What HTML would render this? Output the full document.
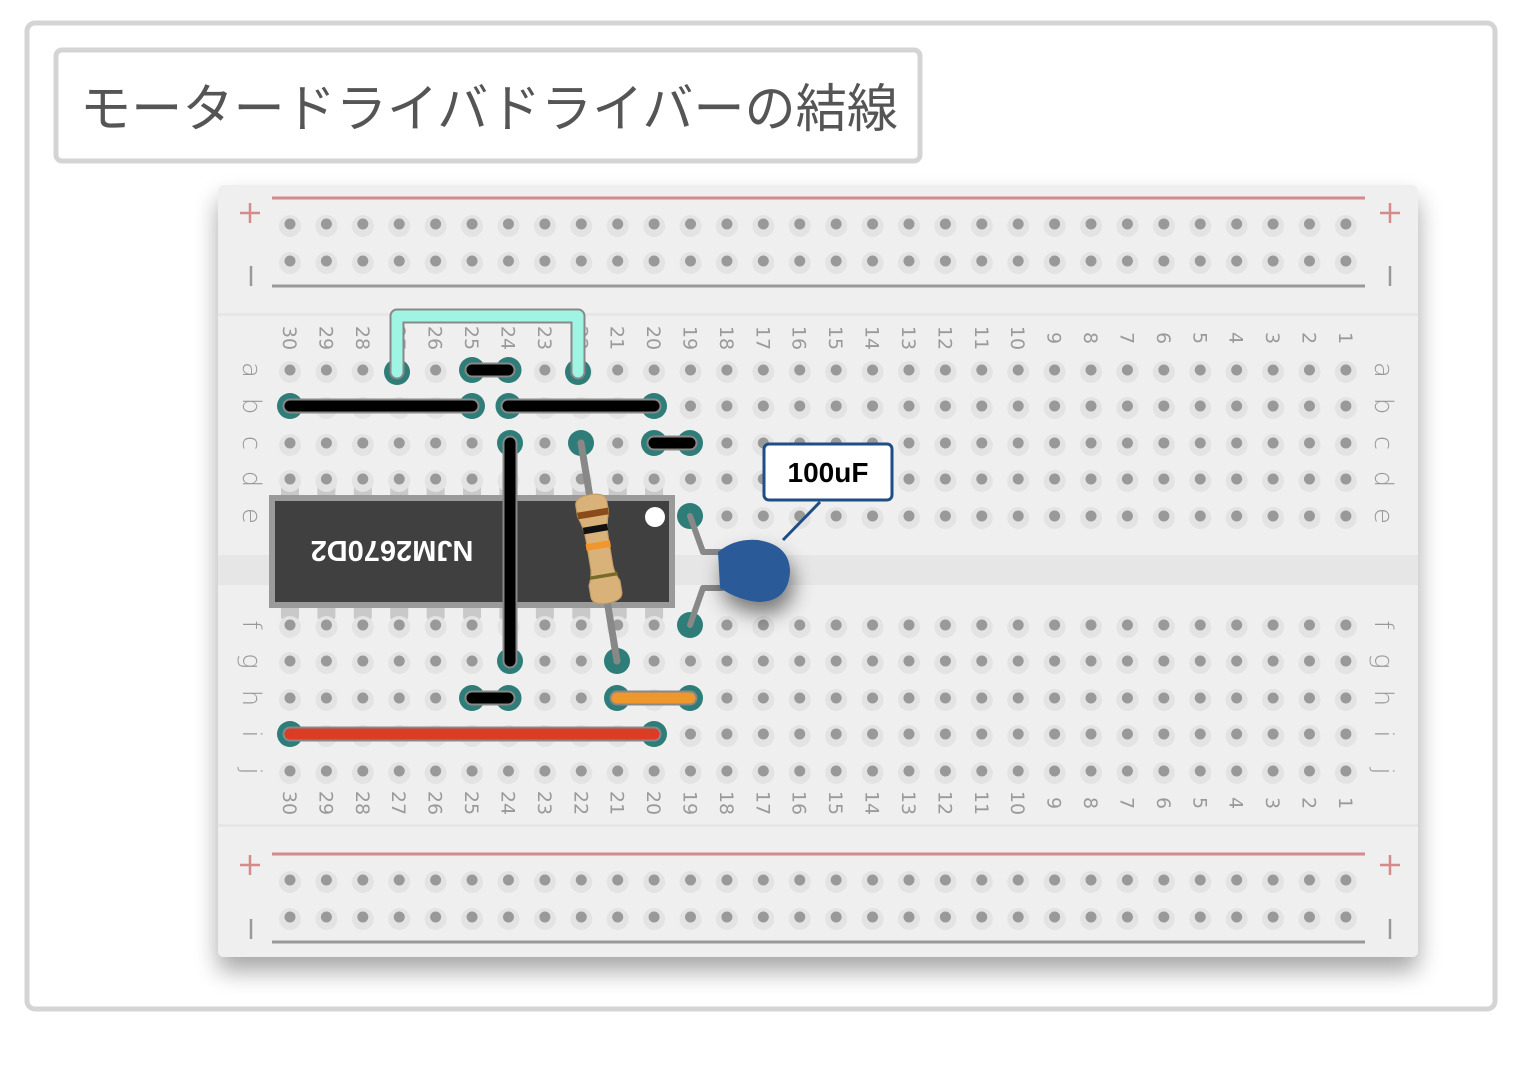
<!DOCTYPE html>
<html><head><meta charset="utf-8"><style>
html,body{margin:0;padding:0;background:#fff;width:1522px;height:1080px;overflow:hidden}
svg{display:block}
.n{font-family:"DejaVu Sans","Liberation Sans",sans-serif;font-size:19px;fill:#9a9a9a}
.l{font-family:"DejaVu Sans","Liberation Sans",sans-serif;font-size:26px;fill:#999;font-weight:200}
</style></head><body>
<svg id="s" width="1522" height="1080" viewBox="0 0 1522 1080" xmlns="http://www.w3.org/2000/svg">
<defs>
<filter id="sh" x="-10%" y="-10%" width="120%" height="130%"><feGaussianBlur in="SourceAlpha" stdDeviation="12"/><feOffset dy="14"/><feComponentTransfer><feFuncA type="linear" slope="0.35"/></feComponentTransfer><feMerge><feMergeNode/><feMergeNode in="SourceGraphic"/></feMerge></filter>
<filter id="cs" x="-100%" y="-100%" width="300%" height="300%"><feGaussianBlur in="SourceAlpha" stdDeviation="10"/><feOffset dx="4" dy="12"/><feComponentTransfer><feFuncA type="linear" slope="0.5"/></feComponentTransfer><feMerge><feMergeNode/><feMergeNode in="SourceGraphic"/></feMerge></filter>
</defs>
<rect x="27" y="23" width="1468" height="986" rx="8" fill="#fff" stroke="#d4d4d4" stroke-width="5"/>
<rect x="56" y="50" width="864" height="111" rx="6" fill="#fff" stroke="#d4d4d4" stroke-width="5"/>
<text x="80" y="127" textLength="818" lengthAdjust="spacingAndGlyphs" font-family="'Liberation Sans','Noto Sans CJK JP',sans-serif" font-size="52" fill="#555">モータードライバドライバーの結線</text>

<g filter="url(#sh)"><rect x="218" y="185" width="1200" height="772" rx="6" fill="#efefef"/></g>
<rect x="218" y="313" width="1200" height="3" fill="#e6e6e6"/>
<rect x="218" y="824" width="1200" height="3" fill="#e6e6e6"/>
<rect x="218" y="555" width="1200" height="30" fill="#e6e6e6"/>
<line x1="272" y1="198" x2="1365" y2="198" stroke="#d28a8a" stroke-width="3"/>
<line x1="272" y1="286" x2="1365" y2="286" stroke="#999" stroke-width="3"/>
<line x1="272" y1="854" x2="1365" y2="854" stroke="#d28a8a" stroke-width="3"/>
<line x1="272" y1="942" x2="1365" y2="942" stroke="#999" stroke-width="3"/>
<g stroke="#d28a8a" stroke-width="2.5"><path d="M240 213h20M250 203v20M1380 213h20M1390 203v20M240 865h20M250 855v20M1380 865h20M1390 855v20"/></g>
<g stroke="#999" stroke-width="2.5"><path d="M251 266v20M1390 266v20M251 919v20M1390 919v20"/></g>
<g id="pins" fill="#c9c9c9"></g>
<g id="dots"></g>

<g class="n" text-anchor="middle">
<text transform="translate(290,338) rotate(90)" dy="7">30</text><text transform="translate(326.4,338) rotate(90)" dy="7">29</text><text transform="translate(362.8,338) rotate(90)" dy="7">28</text><text transform="translate(399.2,338) rotate(90)" dy="7">27</text><text transform="translate(435.6,338) rotate(90)" dy="7">26</text><text transform="translate(472,338) rotate(90)" dy="7">25</text><text transform="translate(508.5,338) rotate(90)" dy="7">24</text><text transform="translate(544.9,338) rotate(90)" dy="7">23</text><text transform="translate(581.3,338) rotate(90)" dy="7">22</text><text transform="translate(617.7,338) rotate(90)" dy="7">21</text><text transform="translate(654.1,338) rotate(90)" dy="7">20</text><text transform="translate(690.5,338) rotate(90)" dy="7">19</text><text transform="translate(726.9,338) rotate(90)" dy="7">18</text><text transform="translate(763.3,338) rotate(90)" dy="7">17</text><text transform="translate(799.7,338) rotate(90)" dy="7">16</text><text transform="translate(836.2,338) rotate(90)" dy="7">15</text><text transform="translate(872.6,338) rotate(90)" dy="7">14</text><text transform="translate(909,338) rotate(90)" dy="7">13</text><text transform="translate(945.4,338) rotate(90)" dy="7">12</text><text transform="translate(981.8,338) rotate(90)" dy="7">11</text><text transform="translate(1018.2,338) rotate(90)" dy="7">10</text><text transform="translate(1054.6,338) rotate(90)" dy="7">9</text><text transform="translate(1091,338) rotate(90)" dy="7">8</text><text transform="translate(1127.4,338) rotate(90)" dy="7">7</text><text transform="translate(1163.9,338) rotate(90)" dy="7">6</text><text transform="translate(1200.3,338) rotate(90)" dy="7">5</text><text transform="translate(1236.7,338) rotate(90)" dy="7">4</text><text transform="translate(1273.1,338) rotate(90)" dy="7">3</text><text transform="translate(1309.5,338) rotate(90)" dy="7">2</text><text transform="translate(1345.9,338) rotate(90)" dy="7">1</text>
<text transform="translate(290,803) rotate(90)" dy="7">30</text><text transform="translate(326.4,803) rotate(90)" dy="7">29</text><text transform="translate(362.8,803) rotate(90)" dy="7">28</text><text transform="translate(399.2,803) rotate(90)" dy="7">27</text><text transform="translate(435.6,803) rotate(90)" dy="7">26</text><text transform="translate(472,803) rotate(90)" dy="7">25</text><text transform="translate(508.5,803) rotate(90)" dy="7">24</text><text transform="translate(544.9,803) rotate(90)" dy="7">23</text><text transform="translate(581.3,803) rotate(90)" dy="7">22</text><text transform="translate(617.7,803) rotate(90)" dy="7">21</text><text transform="translate(654.1,803) rotate(90)" dy="7">20</text><text transform="translate(690.5,803) rotate(90)" dy="7">19</text><text transform="translate(726.9,803) rotate(90)" dy="7">18</text><text transform="translate(763.3,803) rotate(90)" dy="7">17</text><text transform="translate(799.7,803) rotate(90)" dy="7">16</text><text transform="translate(836.2,803) rotate(90)" dy="7">15</text><text transform="translate(872.6,803) rotate(90)" dy="7">14</text><text transform="translate(909,803) rotate(90)" dy="7">13</text><text transform="translate(945.4,803) rotate(90)" dy="7">12</text><text transform="translate(981.8,803) rotate(90)" dy="7">11</text><text transform="translate(1018.2,803) rotate(90)" dy="7">10</text><text transform="translate(1054.6,803) rotate(90)" dy="7">9</text><text transform="translate(1091,803) rotate(90)" dy="7">8</text><text transform="translate(1127.4,803) rotate(90)" dy="7">7</text><text transform="translate(1163.9,803) rotate(90)" dy="7">6</text><text transform="translate(1200.3,803) rotate(90)" dy="7">5</text><text transform="translate(1236.7,803) rotate(90)" dy="7">4</text><text transform="translate(1273.1,803) rotate(90)" dy="7">3</text><text transform="translate(1309.5,803) rotate(90)" dy="7">2</text><text transform="translate(1345.9,803) rotate(90)" dy="7">1</text>
</g>
<g class="l" text-anchor="middle">
<text transform="translate(252,370) rotate(90)" dy="9">a</text><text transform="translate(252,406) rotate(90)" dy="9">b</text><text transform="translate(252,443) rotate(90)" dy="9">c</text><text transform="translate(252,479) rotate(90)" dy="9">d</text><text transform="translate(252,516) rotate(90)" dy="9">e</text><text transform="translate(252,625) rotate(90)" dy="9">f</text><text transform="translate(252,661) rotate(90)" dy="9">g</text><text transform="translate(252,698) rotate(90)" dy="9">h</text><text transform="translate(252,734) rotate(90)" dy="9">i</text><text transform="translate(252,771) rotate(90)" dy="9">j</text>
<text transform="translate(1384,370) rotate(90)" dy="9">a</text><text transform="translate(1384,406) rotate(90)" dy="9">b</text><text transform="translate(1384,443) rotate(90)" dy="9">c</text><text transform="translate(1384,479) rotate(90)" dy="9">d</text><text transform="translate(1384,516) rotate(90)" dy="9">e</text><text transform="translate(1384,625) rotate(90)" dy="9">f</text><text transform="translate(1384,661) rotate(90)" dy="9">g</text><text transform="translate(1384,698) rotate(90)" dy="9">h</text><text transform="translate(1384,734) rotate(90)" dy="9">i</text><text transform="translate(1384,771) rotate(90)" dy="9">j</text>
</g>

<rect x="272" y="498" width="400" height="107" fill="#404040" stroke="#9a9a9a" stroke-width="6"/>
<text transform="translate(392,551) rotate(180)" dy="10" text-anchor="middle" font-family="'Liberation Sans',sans-serif" font-weight="bold" font-size="29" fill="#fff">NJM2670D2</text>
<circle cx="655" cy="517" r="10" fill="#fff"/>

<g fill="#2f7d78" stroke="none">
<circle cx="397" cy="372" r="13"/><circle cx="578" cy="372" r="13"/>
<circle cx="472" cy="370" r="13"/><circle cx="508.5" cy="370" r="13"/>
<circle cx="290" cy="406" r="13"/><circle cx="472" cy="406" r="13"/><circle cx="508.5" cy="406" r="13"/><circle cx="654" cy="406" r="13"/>
<circle cx="654" cy="443" r="13"/><circle cx="690" cy="443" r="13"/>
<circle cx="510" cy="443" r="13"/><circle cx="510" cy="661" r="13"/>
<circle cx="581" cy="443" r="13"/><circle cx="617" cy="661" r="13"/>
<circle cx="472" cy="698" r="13"/><circle cx="508.5" cy="698" r="13"/>
<circle cx="617" cy="698" r="13"/><circle cx="690" cy="698" r="13"/>
<circle cx="290" cy="734" r="13"/><circle cx="654" cy="734" r="13"/>
<circle cx="690" cy="516" r="13"/><circle cx="690" cy="625" r="13"/>
</g>
<g stroke-linecap="round" fill="none">
<path d="M397 372V316H578V372" stroke="#888" stroke-width="15" stroke-linejoin="round"/>
<path d="M397 372V316H578V372" stroke="#9ff5e4" stroke-width="11" stroke-linejoin="round"/>
<g stroke="#888" stroke-width="15"><path d="M472 370H508M290 406H472M508 406H654M654 443H690M510 443V661M472 698H508M617 698H690M290 734H654"/></g>
<g stroke="#000" stroke-width="11"><path d="M472 370H508M290 406H472M508 406H654M654 443H690M510 443V661M472 698H508"/></g>
<path d="M617 698H690" stroke="#f0962e" stroke-width="11"/>
<path d="M290 734H654" stroke="#dc3b26" stroke-width="11"/>
<path d="M581 443L617 661" stroke="#888" stroke-width="7"/>
</g>
<g transform="translate(599,550) rotate(-9.4) scale(1.12)">
<path d="M-14,-42 Q-14,-50 0,-50 Q14,-50 14,-42 L14,-32 Q10,-22 10,-10 L10,15 Q10,22 14,30 L14,40 Q14,48 0,48 Q-14,48 -14,40 L-14,30 Q-10,22 -10,15 L-10,-10 Q-10,-22 -14,-32 Z" fill="#d9b27a" stroke="#c49c64" stroke-width="1"/>
<rect x="-14" y="-36" width="28" height="6" fill="#8a4a1a"/>
<rect x="-11" y="-22" width="22" height="6" fill="#111"/>
<rect x="-11" y="-7" width="22" height="6" fill="#f0962e"/>
<rect x="-12" y="22" width="25" height="3" fill="#7a6a2a"/>
</g>
<g fill="none" stroke-linecap="round" stroke-linejoin="round">
<path d="M690 516L703 552H722M690 625L703 588H722" stroke="#888" stroke-width="6"/>
</g>
<g filter="url(#cs)"><path d="M718 552 Q735 538 758 540 Q790 545 790 572 Q788 602 758 602 Q738 600 720 588 Z" fill="#2b5a97"/></g>
<path d="M820 502L783 540" stroke="#1f4e85" stroke-width="3"/>
<rect x="764" y="444" width="128" height="56" rx="5" fill="#fff" stroke="#1f4e85" stroke-width="3"/>
<text x="828" y="482" text-anchor="middle" font-family="'Liberation Sans',sans-serif" font-weight="bold" font-size="28" fill="#000">100uF</text>
</svg>
<script>
var NS="http://www.w3.org/2000/svg";
var g=document.getElementById("dots"),p=document.getElementById("pins");
function c(x,y,r,f,par){var e=document.createElementNS(NS,"circle");e.setAttribute("cx",x);e.setAttribute("cy",y);e.setAttribute("r",r);e.setAttribute("fill",f);(par||g).appendChild(e);}
var rows=[224,261,370,406,443,479,516,625,661,698,734,771,880,917];
for(var i=0;i<30;i++){var x=290+i*36.41;for(var j=0;j<rows.length;j++){c(x,rows[j]+2,11,"#e3e3e3");c(x,rows[j],5.5,"#999");}}
for(var i=0;i<11;i++){var x=290+i*36.41;
 var r=document.createElementNS(NS,"rect");r.setAttribute("x",x-9);r.setAttribute("y",484);r.setAttribute("width",18);r.setAttribute("height",16);r.setAttribute("rx",3);p.appendChild(r);
 var r2=document.createElementNS(NS,"rect");r2.setAttribute("x",x-9);r2.setAttribute("y",604);r2.setAttribute("width",18);r2.setAttribute("height",16);r2.setAttribute("rx",3);p.appendChild(r2);}
</script>
</body></html>
